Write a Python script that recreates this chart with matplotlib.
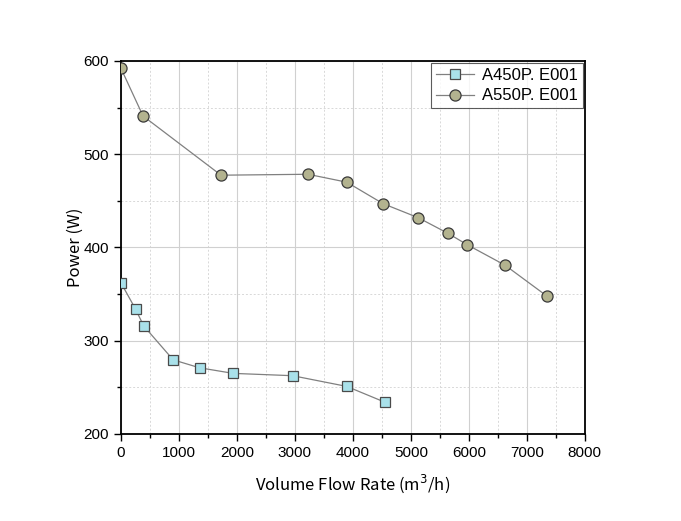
import matplotlib
matplotlib.use('Agg')
import matplotlib.pyplot as plt
from matplotlib.ticker import MultipleLocator

# A450P.E001
flow_450 = [0, 250, 390, 900, 1355, 1935, 2960, 3895, 4555]
power_450 = [362, 334, 316, 279.5, 271, 265, 262.5, 251, 234]

# A550P.E001
flow_550 = [0, 380, 1725, 3225, 3895, 4520, 5125, 5645, 5970, 6625, 7355]
power_550 = [592, 541, 477.5, 478.5, 470, 447, 432, 415, 403, 381, 347.5]

fig = plt.figure(figsize=(6.81, 5.21), dpi=100)
ax = fig.add_axes([0.1777, 0.167, 0.681, 0.716])

ax.plot(flow_450, power_450, '-', color='#808080', linewidth=0.9,
        marker='s', markersize=7, markerfacecolor='#a9e1ea',
        markeredgecolor='#4a4a4a', markeredgewidth=0.9, label='A450P. E001', zorder=3)
ax.plot(flow_550, power_550, '-', color='#808080', linewidth=0.9,
        marker='o', markersize=8, markerfacecolor='#b3b38f',
        markeredgecolor='#3a3a3a', markeredgewidth=0.9, label='A550P. E001', zorder=3)

ax.set_xlim(0, 8000)
ax.set_ylim(200, 600)
ax.xaxis.set_major_locator(MultipleLocator(1000))
ax.xaxis.set_minor_locator(MultipleLocator(500))
ax.yaxis.set_major_locator(MultipleLocator(100))
ax.yaxis.set_minor_locator(MultipleLocator(50))

ax.grid(True, which='major', color='#d0d0d0', linewidth=0.8)
ax.grid(True, which='minor', color='#d8d8d8', linewidth=0.7, linestyle=(0, (2, 2)))
ax.set_axisbelow(True)

for s in ax.spines.values():
    s.set_linewidth(1.3)
    s.set_color('black')

ax.tick_params(which='major', direction='out', length=5, width=1, labelsize=11)
ax.tick_params(which='minor', direction='out', length=3, width=1)

cjk = ['Noto Sans CJK SC', 'DejaVu Sans']
ax.set_xlabel('Volume Flow Rate (m$^3$/h)', fontsize=12, family=cjk, labelpad=9)
ax.set_ylabel('Power (W)', fontsize=12, family=cjk, labelpad=0)

for lbl in ax.get_xticklabels() + ax.get_yticklabels():
    lbl.set_family('Liberation Sans')

leg = ax.legend(loc='upper right', frameon=True, fancybox=False,
                borderaxespad=0.1, borderpad=0.3, handlelength=2.3, handletextpad=0.5,
                labelspacing=0.35, prop={'family': 'Liberation Sans', 'size': 12})
leg.get_frame().set_edgecolor('#333333')
leg.get_frame().set_linewidth(0.8)

plt.savefig('out.png', dpi=100)
